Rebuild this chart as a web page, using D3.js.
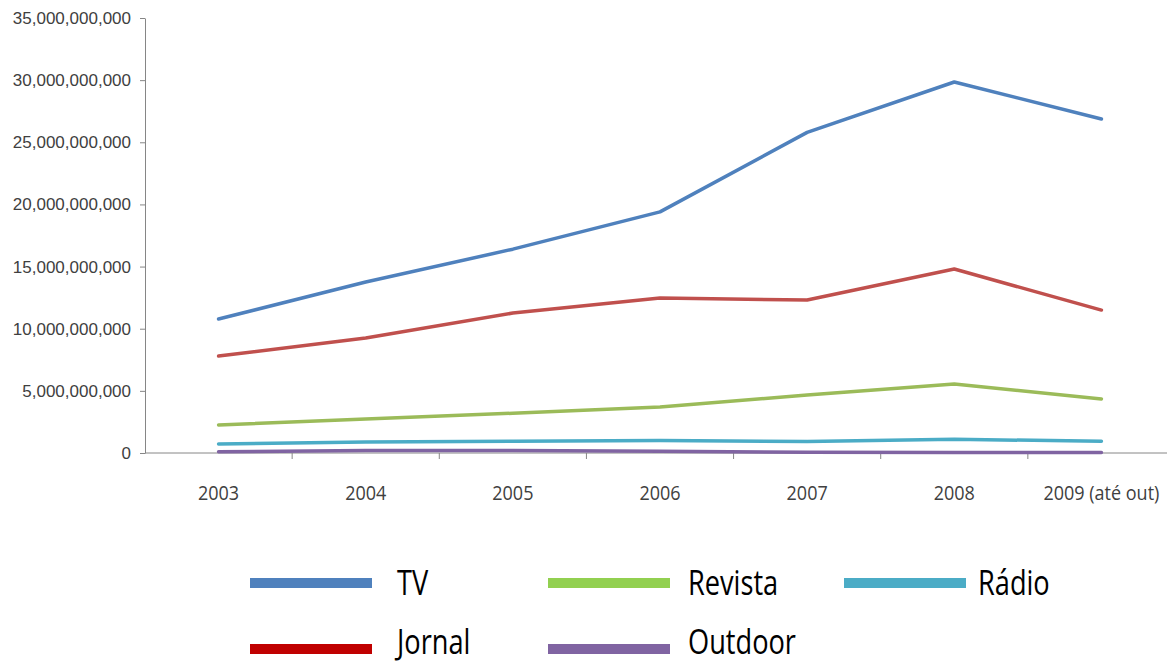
<!DOCTYPE html>
<html>
<head>
<meta charset="utf-8">
<script src="https://cdn.jsdelivr.net/npm/d3@7.9.0/dist/d3.min.js"></script>
<style>
  html, body { margin: 0; padding: 0; background: #fff; }
  svg { display: block; font-family: "Open Sans", sans-serif; }
</style>
</head>
<body>
<svg id="chart" width="1167" height="663"></svg>
<script>
const years = ["2003", "2004", "2005", "2006", "2007", "2008", "2009 (até out)"];

const tv =      [10.78e9, 13.76e9, 16.4e9, 19.4e9, 25.8e9, 29.85e9, 26.87e9];
const jornal =  [7.8e9, 9.25e9, 11.26e9, 12.47e9, 12.31e9, 14.8e9, 11.5e9];
const revista = [2.25e9, 2.74e9, 3.2e9, 3.7e9, 4.67e9, 5.55e9, 4.35e9];
const radio =   [0.72e9, 0.88e9, 0.95e9, 1.0e9, 0.93e9, 1.1e9, 0.95e9];
const outdoor = [0.1e9, 0.2e9, 0.2e9, 0.15e9, 0.06e9, 0.05e9, 0.05e9];

const yTicks = [0, 5e9, 10e9, 15e9, 20e9, 25e9, 30e9, 35e9];

const series = [
  { name: "TV", values: tv, color: "#4f81bd", legendColor: "#4f81bd" },
  { name: "Jornal", values: jornal, color: "#c0504d", legendColor: "#c00000" },
  { name: "Revista", values: revista, color: "#9bbb59", legendColor: "#92d050" },
  { name: "Rádio", values: radio, color: "#4bacc6", legendColor: "#4bacc6" },
  { name: "Outdoor", values: outdoor, color: "#8064a2", legendColor: "#8064a2" },
];

// legend layout: [column, row] for each series
const legendSlots = { TV: [0, 0], Revista: [1, 0], "Rádio": [2, 0], Jornal: [0, 1], Outdoor: [1, 1] };

const svg = d3.select("#chart");
const axisColor = "#868686";

const x = d3.scaleBand().domain(years).range([145, 1175]);
const y = d3.scaleLinear().domain([0, 35e9]).range([453, 18]);
const cx = (d) => x(d) + x.bandwidth() / 2;

// y axis
const yAxis = svg.append("g")
  .attr("transform", "translate(145,0)")
  .call(d3.axisLeft(y).tickValues(yTicks).tickFormat(d3.format(",")).tickSize(5).tickSizeOuter(0).tickPadding(9));
yAxis.select(".domain").attr("stroke", axisColor);
yAxis.selectAll(".tick line").attr("stroke", axisColor);
yAxis.selectAll(".tick text")
  .attr("fill", "#404040")
  .style("font-size", "17px");

// x axis
const xAxisG = svg.append("g").attr("transform", "translate(0,453)");
xAxisG.append("line")
  .attr("x1", 145).attr("x2", 1175)
  .attr("stroke", axisColor);
xAxisG.selectAll(".xtick")
  .data(years.slice(1))
  .join("line")
  .attr("x1", (d) => x(d)).attr("x2", (d) => x(d))
  .attr("y1", 0).attr("y2", 6)
  .attr("stroke", axisColor);
xAxisG.selectAll(".xlabel")
  .data(years)
  .join("text")
  .attr("transform", (d) => `translate(${cx(d)},47) scale(0.9,1)`)
  .attr("text-anchor", "middle")
  .attr("fill", "#404040")
  .style("font-size", "20px")
  .text((d) => d);

// lines
const line = d3.line()
  .x((d, i) => cx(years[i]))
  .y((d) => y(d));

svg.selectAll(".series")
  .data(series)
  .join("path")
  .attr("fill", "none")
  .attr("stroke", (d) => d.color)
  .attr("stroke-width", 3.5)
  .attr("stroke-linejoin", "round")
  .attr("stroke-linecap", "round")
  .attr("d", (d) => line(d.values));

// legend
const colX = [250, 548, 844];
const rowY = [583, 649];
const textDy = [12, 5];
const legend = svg.selectAll(".legend")
  .data(series)
  .join("g")
  .attr("transform", (d) => `translate(${colX[legendSlots[d.name][0]]},${rowY[legendSlots[d.name][1]]})`);
legend.append("rect")
  .attr("x", 0).attr("y", -5)
  .attr("width", 122).attr("height", 10)
  .attr("fill", (d) => d.legendColor);
legend.append("text")
  .attr("transform", (d) => {
    const tx = d.name === "Rádio" ? 134 : d.name === "TV" || d.name === "Jornal" ? 147 : 140;
    return `translate(${tx},${textDy[legendSlots[d.name][1]]}) scale(0.8,1)`;
  })
  .attr("fill", "#000")
  .style("font-size", "34px")
  .text((d) => d.name);
</script>
</body>
</html>
